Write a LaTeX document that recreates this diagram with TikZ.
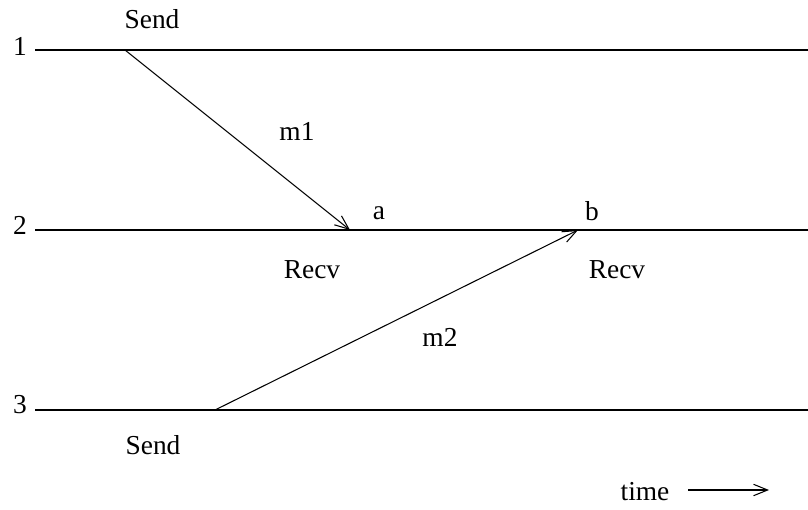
\documentclass[tikz,border=0pt]{standalone}
\usepackage{fontspec}
\setmainfont{Liberation Serif}
\usetikzlibrary{arrows.meta}
\begin{document}
\begin{tikzpicture}[x=0.02cm, y=-0.02cm, font=\fontsize{15.6}{18}\selectfont, line width=0.6pt, line join=round, >={Straight Barb[length=8pt,width=6.5pt]}]
			\useasboundingbox (0,0) rectangle (808,510);
			% process lines
			\coordinate (p1a) at (35,50);  \coordinate (p1b) at (808,50);
			\coordinate (p2a) at (35,230); \coordinate (p2b) at (808,230);
			\coordinate (p3a) at (35,410); \coordinate (p3b) at (808,410);
			\draw (p1a) -- (p1b);
			\draw (p2a) -- (p2b);
			\draw (p3a) -- (p3b);
			\node (n1) at (20,46) {1};
			\node (n2) at (20,225) {2};
			\node (n3) at (20,405) {3};
			% events
			\coordinate (s1) at (125,50);
			\coordinate (ra) at (350,230);
			\coordinate (rb) at (578,230);
			\coordinate (s3) at (215,410);
			\draw[->] (s1) -- (ra);
			\draw[->] (s3) -- (rb);
			\node (send1) at (152,19) {Send};
			\node (m1) at (297,131) {m1};
			\node (a) at (379,213) {a};
			\node (b) at (592,211) {b};
			\node (recv1) at (312,270) {Recv};
			\node (recv2) at (617,270) {Recv};
			\node (m2) at (440,337) {m2};
			\node (send3) at (153,445) {Send};
			% time axis
			\node (time) at (645,492) {time};
			\coordinate (t1) at (688,490);
			\coordinate (t2) at (769,490);
			\draw[->] (t1) -- (t2);
		\end{tikzpicture}
\end{document}
